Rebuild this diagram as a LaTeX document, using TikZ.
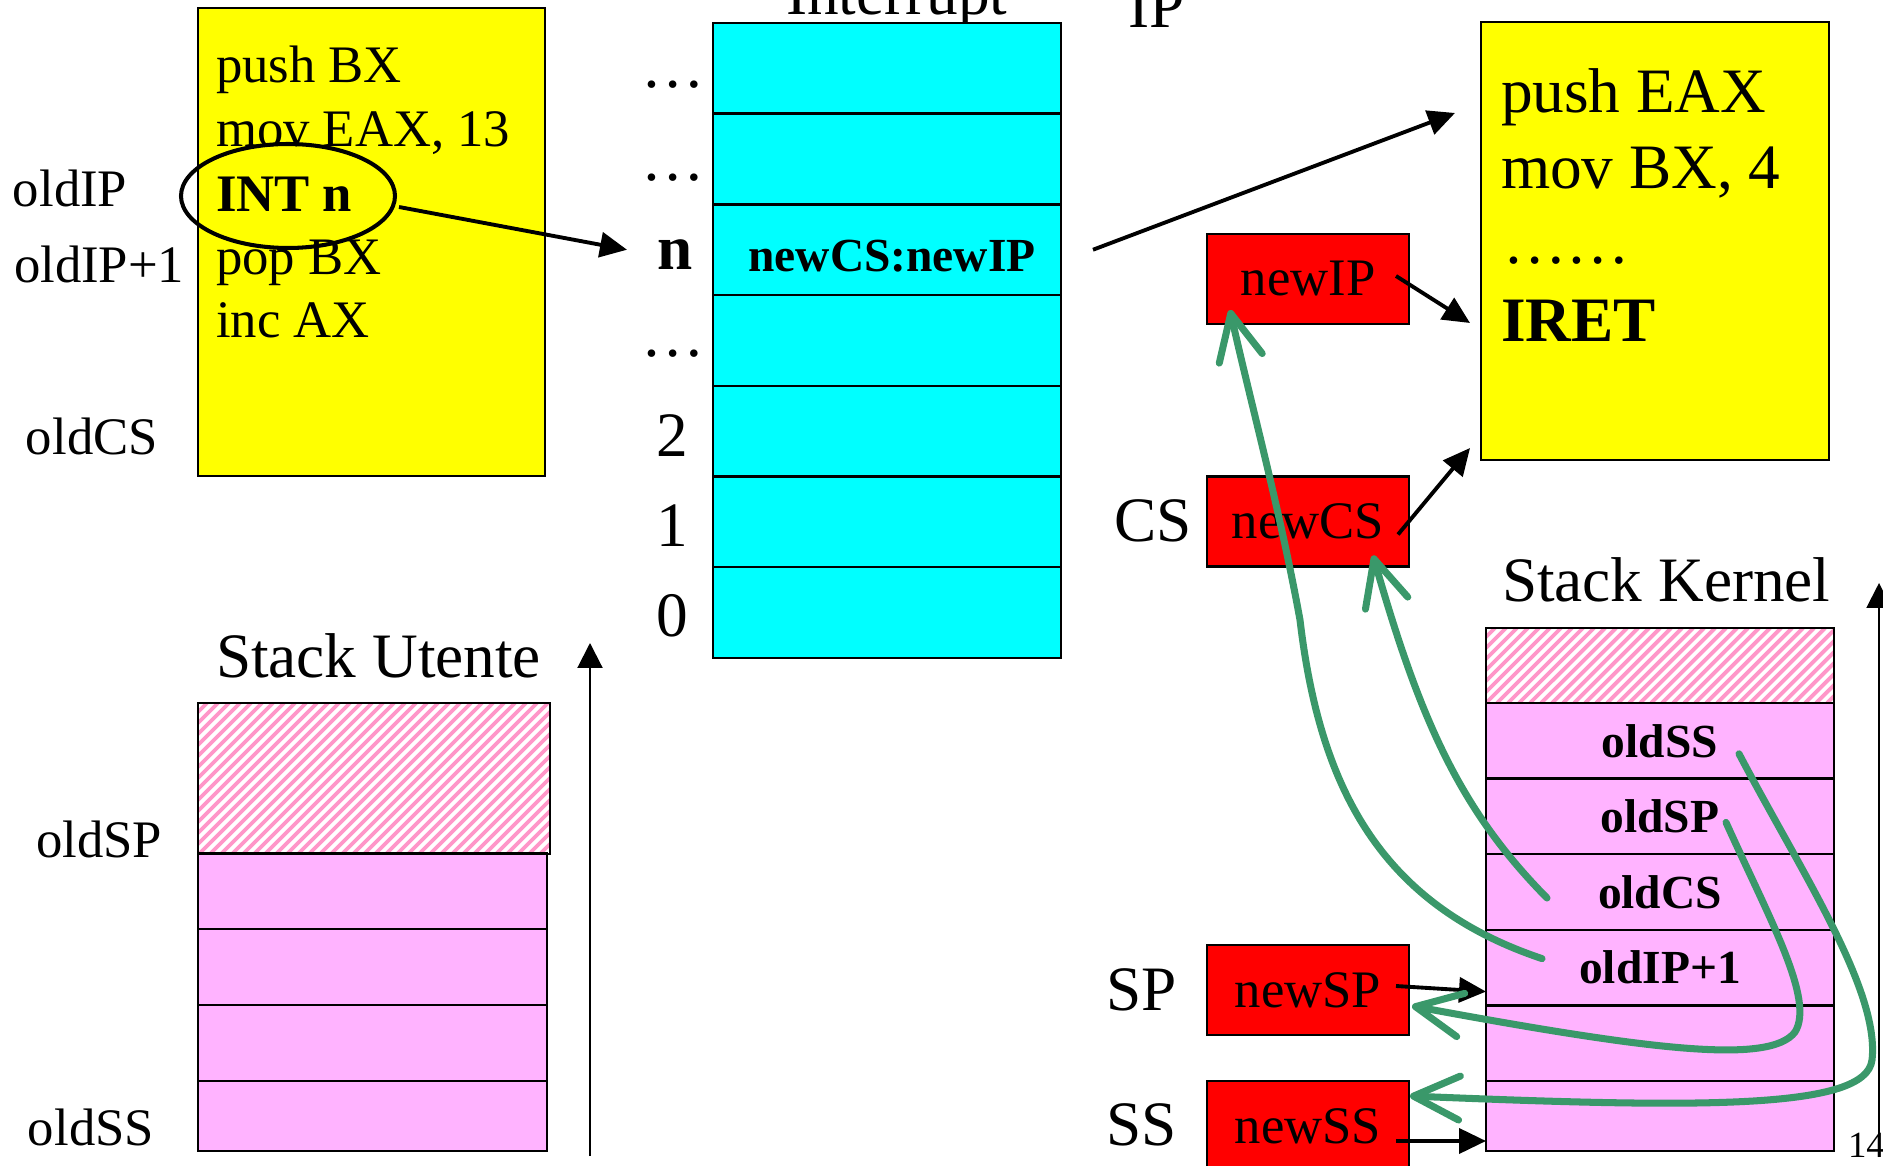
\documentclass[tikz,border=0pt]{standalone}
\usepackage{fontspec}
\setmainfont{Liberation Serif}
\usetikzlibrary{arrows.meta,calc,shapes.geometric}

\definecolor{codeyellow}{RGB}{255,255,0}
\definecolor{tablecyan}{RGB}{0,255,255}
\definecolor{regred}{RGB}{255,0,0}
\definecolor{stackpink}{RGB}{255,179,255}
\definecolor{hatchpink}{RGB}{255,150,200}
\definecolor{flowgreen}{RGB}{58,152,106}

\tikzset{
  every node/.style={inner sep=0pt, outer sep=0pt},
  txtM/.style={font=\fontsize{15pt}{18pt}\selectfont},
  txtMB/.style={font=\fontsize{15pt}{18pt}\selectfont\bfseries},
  txtL/.style={font=\fontsize{18pt}{21pt}\selectfont},
  txtLB/.style={font=\fontsize{18pt}{21pt}\selectfont\bfseries},
  txtB/.style={font=\fontsize{13.5pt}{16pt}\selectfont\bfseries},
  cell/.style={rectangle, draw=black, line width=0.7pt},
  ivtrow/.style={cell, fill=tablecyan, minimum width=34.8mm, minimum height=9.07mm},
  stackrow/.style={cell, fill=stackpink, minimum width=34.8mm, minimum height=7.56mm},
  reg/.style={cell, fill=regred, minimum width=20.2mm, minimum height=9mm, txtM},
  blk/.style={-{Triangle[length=2.7mm,width=2.5mm]}, line width=1.1pt},
  axisarrow/.style={-{Triangle[length=2.5mm,width=2.5mm]}, line width=0.6pt},
  grn/.style={-{Straight Barb[length=4.6mm,width=4.4mm,round]}, draw=flowgreen,
              line width=2pt, line cap=round},
  hatchline/.style={draw=hatchpink, line width=1.1pt},
}

\begin{document}
\begin{tikzpicture}[x=0.1mm, y=-0.1mm]
\useasboundingbox (0,0) rectangle (1883,1166);
\clip (0,0) rectangle (1883,1166);

% ---------------- user program ----------------
\node[cell, fill=codeyellow, minimum width=34.7mm, minimum height=46.8mm, anchor=north west] (ucode) at (198,8) {};
\node[txtM, anchor=base west] (u1) at (216,83) {push BX};
\node[txtM, anchor=base west] (u2) at (216,147) {mov EAX, 13};
\node[txtMB, anchor=base west] (u3) at (216,212) {INT n};
\node[txtM, anchor=base west] (u4) at (216,275) {pop BX};
\node[txtM, anchor=base west] (u5) at (216,338) {inc AX};
\node[ellipse, draw, line width=1.15pt, minimum width=21.4mm, minimum height=10.4mm] (intsel) at (288,196) {};

\node[txtM, anchor=base west] (lip) at (13,207) {oldIP};
\node[txtM, anchor=base west] (lip1) at (14,283) {oldIP+1};
\node[txtM, anchor=base west] (lcs) at (26,455) {oldCS};

% ---------------- interrupt vector table ----------------
\node[txtL, anchor=base west] (ivttitle) at (786,15) {Interrupt};
\foreach \i in {1,...,7}
  \node[ivtrow] (ivt\i) at (887,{23+90.7*(\i-0.5)}) {};
\node[txtB, anchor=base] (ivtentry) at (892,272) {newCS:newIP};

\node[txtL, anchor=base] (r1) at (673,88) {…};
\node[txtL, anchor=base] (r2) at (673,181) {…};
\node[txtLB, anchor=base] (rn) at (675,270) {n};
\node[txtL, anchor=base] (r4) at (673,357) {…};
\node[txtL, anchor=base] (r5) at (672,457) {2};
\node[txtL, anchor=base] (r6) at (672,547) {1};
\node[txtL, anchor=base] (r7) at (672,637) {0};

\draw[blk] ($(intsel.east)+(4,11)$) -- ($(ivt3.west)+(-86,0)$);

% ---------------- interrupt handler ----------------
\node[txtL, anchor=base west] (iplab) at (1128,28) {IP};
\node[cell, fill=codeyellow, minimum width=34.8mm, minimum height=43.8mm, anchor=north west] (kcode) at (1481,22) {};
\node[txtL, anchor=base west] (k1) at (1501,113) {push EAX};
\node[txtL, anchor=base west] (k2) at (1501,189) {mov BX, 4};
\node[txtL, anchor=base west] (k3) at (1503,264) {……};
\node[txtLB, anchor=base west] (k4) at (1501,342) {IRET};

\draw[blk] ($(ivt3.east)+(32,0)$) -- ($(kcode.north west)+(-26,91)$);

% ---------------- registers ----------------
\node[reg] (newIP) at (1308,279) {newIP};
\node[reg] (newCS) at (1308,521.5) {newCS};
\node[reg] (newSP) at (1308,990) {newSP};
\node[reg] (newSS) at (1308,1126) {newSS};
\node[txtL, anchor=base west] (lblCS) at (1114,542) {CS};
\node[txtL, anchor=base west] (lblSP) at (1106,1010) {SP};
\node[txtL, anchor=base west] (lblSS) at (1106,1145) {SS};

\draw[blk] ($(newIP.east)+(-13,-3)$) -- ($(kcode.west)+(-11,82)$);
\draw[blk] ($(newCS.east)+(-11,13)$) -- ($(kcode.south west)+(-11,-12)$);

% ---------------- user stack ----------------
\node[txtL, anchor=base west] (sutitle) at (216,678) {Stack Utente};
\node[rectangle, fill=white, minimum width=35.2mm, minimum height=15.1mm] (su0) at (374,778.5) {};
\begin{scope}
  \clip (su0.north west) rectangle (su0.south east);
  \foreach \k in {0,...,47}
    \draw[hatchline] ({45+\k*11},854) -- ++(151,-151);
\end{scope}
\draw[line width=0.7pt] (su0.north west) rectangle (su0.south east);
\node[stackrow, minimum width=34.9mm] (su1) at (372.5,891.5) {};
\node[stackrow, minimum width=34.9mm] (su2) at (372.5,967) {};
\node[stackrow, minimum width=34.9mm] (su3) at (372.5,1043) {};
\node[stackrow, minimum width=34.9mm, minimum height=7mm] (su4) at (372.5,1116) {};
\node[txtM, anchor=base west] (lsp) at (36,858) {oldSP};
\node[txtM, anchor=base west] (lss) at (28,1145) {oldSS};
\coordinate (uaxis0) at (590,1156);
\coordinate (uaxis1) at (590,643);
\draw[axisarrow] (uaxis0) -- (uaxis1);

% ---------------- kernel stack ----------------
\node[txtL, anchor=base west] (sktitle) at (1502,602) {Stack Kernel};
\node[rectangle, fill=white, minimum width=34.8mm, minimum height=7.5mm] (sk0) at (1660,665.5) {};
\begin{scope}
  \clip (sk0.north west) rectangle (sk0.south east);
  \foreach \k in {0,...,40}
    \draw[hatchline] ({1409+\k*11},703) -- ++(75,-75);
\end{scope}
\draw[line width=0.7pt] (sk0.north west) rectangle (sk0.south east);
\foreach \i in {1,...,5}
  \node[stackrow] (sk\i) at (1660,{703+75.6*(\i-0.5)}) {};
\node[stackrow, minimum height=7mm] (sk6) at (1660,1116) {};
\node[txtB] at (sk1) {oldSS};
\node[txtB] at (sk2) {oldSP};
\node[txtB] at (sk3) {oldCS};
\node[txtB] at (sk4) {oldIP+1};
\coordinate (kaxis0) at (1879,1157);
\coordinate (kaxis1) at (1879,583);
\draw[axisarrow] (kaxis0) -- (kaxis1);
\node[font=\fontsize{10.5pt}{12pt}\selectfont, anchor=base west] (pagenum) at (1848,1157) {14};

\draw[blk] ($(newSP.east)+(-13,-4)$) -- ($(sk4.west)+(0,24)$);
\draw[blk] ($(newSS.east)+(-13,15)$) -- ($(sk6.west)+(0,25)$);

% ---------------- restore paths (IRET) ----------------
\coordinate (g1s) at ($(sk4.west)+(56,-9)$);
\coordinate (g2s) at ($(sk3.west)+(61,6)$);
\coordinate (g3s) at ($(sk2.west)+(240,6)$);
\coordinate (g4s) at ($(sk1.west)+(253,13)$);

\draw[grn] (g1s) .. controls (1382,905) and (1320,790) .. (1300,620)
               .. controls (1280,510) and (1250,400) .. ($(newIP.south west)+(23,-14)$);
\draw[grn] (g2s) .. controls (1460,810) and (1420,720) .. ($(newCS.south)+(65,-11)$);
\draw[grn] (g3s) .. controls (1770,920) and (1815,1000) .. (1795,1032)
               .. controls (1770,1065) and (1650,1050) .. ($(newSP.east)+(3,16)$);
\draw[grn] (g4s) .. controls (1800,870) and (1880,990) .. (1872,1060)
               .. controls (1866,1110) and (1700,1108) .. ($(newSS.north east)+(1,15)$);
\end{tikzpicture}
\end{document}
